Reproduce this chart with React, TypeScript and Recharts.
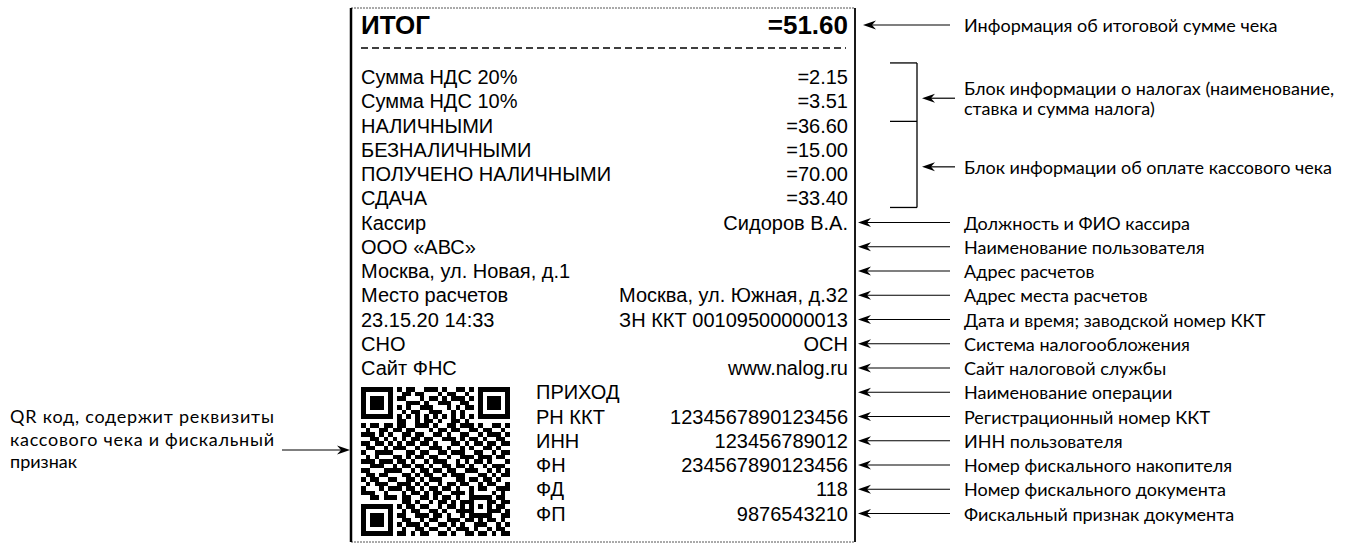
import React from 'react';
import { ComposedChart, XAxis, YAxis, Scatter, ReferenceLine } from 'recharts';

// ---- receipt content ----
const totalLabel = 'ИТОГ';
const totalValue = '=51.60';

const receiptLabels = [
  'Сумма НДС 20%',
  'Сумма НДС 10%',
  'НАЛИЧНЫМИ',
  'БЕЗНАЛИЧНЫМИ',
  'ПОЛУЧЕНО НАЛИЧНЫМИ',
  'СДАЧА',
  'Кассир',
  'ООО «АВС»',
  'Москва, ул. Новая, д.1',
  'Место расчетов',
  '23.15.20 14:33',
  'СНО',
  'Сайт ФНС',
  'ПРИХОД',
  'РН ККТ',
  'ИНН',
  'ФН',
  'ФД',
  'ФП',
];

const receiptValues = [
  '=2.15',
  '=3.51',
  '=36.60',
  '=15.00',
  '=70.00',
  '=33.40',
  'Сидоров В.А.',
  '',
  '',
  'Москва, ул. Южная, д.32',
  'ЗН ККТ 00109500000013',
  'ОСН',
  'www.nalog.ru',
  '',
  '1234567890123456',
  '123456789012',
  '234567890123456',
  '118',
  '9876543210',
];

// first receipt line that sits to the right of the QR code
const qrColumnFrom = 13;

// ---- callouts ----
const calloutTotal = 'Информация об итоговой сумме чека';
const calloutTax = ['Блок информации о налогах (наименование,', 'ставка и сумма налога)'];
const calloutPayment = 'Блок информации об оплате кассового чека';
const taxRows = [0, 1];
const paymentRows = [2, 5];

const calloutFrom = 6;
const calloutRows = [
  'Должность и ФИО кассира',
  'Наименование пользователя',
  'Адрес расчетов',
  'Адрес места расчетов',
  'Дата и время; заводской номер ККТ',
  'Система налогообложения',
  'Сайт налоговой службы',
  'Наименование операции',
  'Регистрационный номер ККТ',
  'ИНН пользователя',
  'Номер фискального накопителя',
  'Номер фискального документа',
  'Фискальный признак документа',
];

const qrNote = ['QR код, содержит реквизиты', 'кассового чека и фискальный', 'признак'];

// QR bitmap, 33 x 33 modules
const qrRows = [
  '1111111' + '0' + '10110011101001101' + '0' + '1111111',
  '1000001' + '0' + '01101100010110010' + '0' + '1000001',
  '1011101' + '0' + '11000101101011101' + '0' + '1011101',
  '1011101' + '0' + '00111010011100110' + '0' + '1011101',
  '1011101' + '0' + '10100111000101011' + '0' + '1011101',
  '1000001' + '0' + '01011001110010100' + '0' + '1000001',
  '1111111' + '0' + '10101010101010101' + '0' + '1111111',
  '00000000' + '11001011010011010' + '00000000',
  '101101' + '1' + '01100111010011011101001101',
  '010011' + '0' + '11011000101101100110110010',
  '111010' + '1' + '00110110011010011001011101',
  '001101' + '0' + '10101101100111010110100110',
  '110110' + '1' + '01011011010001101011011011',
  '011001' + '0' + '11100100111010010100110100',
  '100111' + '1' + '00011011001101110011001011',
  '010100' + '0' + '11010110110010011101110110',
  '111011' + '1' + '01101001011100101011010001',
  '001110' + '0' + '10110110100110110100101110',
  '110001' + '1' + '11001011011011001110010101',
  '011011' + '0' + '00110101100101110001101011',
  '101100' + '1' + '10011010111000110110110100',
  '010111' + '0' + '01110101001011011001011001',
  '100010' + '1' + '11011010110110100101100111',
  '111001' + '0' + '00101101011001110100001010',
  '001101' + '1' + '10110011010110100' + '11111' + '0110',
  '00000000' + '0110100101101011' + '10001' + '1011',
  '1111111' + '0' + '1011011001011010' + '10101' + '0110',
  '1000001' + '0' + '0101100110100111' + '10001' + '1101',
  '1011101' + '0' + '1100111011010010' + '11111' + '0011',
  '1011101' + '0' + '0110010110011101101011010',
  '1011101' + '0' + '1011101001101010011100101',
  '1000001' + '0' + '0100110110010111010010110',
  '1111111' + '0' + '1101011001101001101101011',
];

// ---- layout ----
const W = 1362;
const H = 550;
const ROW0_Y = 77;
const ROW_H = 24.25;
const rowOf = (px: number) => (px - ROW0_Y) / ROW_H;

const BOX_L = 351;
const BOX_R = 855;
const BOX_T = 8;
const BOX_B = 542;
const TEXT_L = 361;
const TEXT_R = 848;
const COL2_X = 536;
const QR_X = 361;
const QR_Y = 387;
const MOD = 4.5;
const ARROW_END = 950;
const NOTE_X = 964;
const BRACKET_IN = 890;
const BRACKET_X = 917;

const TOTAL_ROW = rowOf(25);
const DASH_ROW = rowOf(48);

const RECEIPT_FONT = '"Liberation Sans", Arial, sans-serif';
const NOTE_FONT = 'Lato, "Open Sans", sans-serif';

// tables for the library
const leftTable = receiptLabels.map((label, i) => ({
  x: i >= qrColumnFrom ? COL2_X : TEXT_L,
  row: i,
  text: label,
}));
const rightTable = receiptValues
  .map((value, i) => ({ x: TEXT_R, row: i, text: value }))
  .filter((d) => d.text !== '');
const totalTable = [
  { x: TEXT_L, row: TOTAL_ROW, text: totalLabel, anchor: 'start' },
  { x: TEXT_R, row: TOTAL_ROW, text: totalValue, anchor: 'end' },
];

// bracket: top above the first tax line, split just under the tax block, bottom under the payment block
const taxTop = taxRows[0] - 0.58;
const taxBottom = taxRows[1] + 0.83;
const payBottom = paymentRows[1] + 0.38;

const arrowTable = [
  { x: BOX_R + 8, row: TOTAL_ROW, lines: [calloutTotal] },
  ...calloutRows.map((text, i) => ({ x: BOX_R + 3, row: calloutFrom + i, lines: [text] })),
];
const bracketArrowTable = [
  { x: BRACKET_X + 5, row: (taxTop + taxBottom) / 2 + 0.25, lines: calloutTax },
  { x: BRACKET_X + 5, row: (taxBottom + payBottom) / 2 + 0.1, lines: [calloutPayment] },
];

const qrCells: { col: number; qrow: number }[] = [];
qrRows.forEach((line, r) => {
  line.split('').forEach((c, col) => {
    if (c === '1') qrCells.push({ col, qrow: r });
  });
});

const qrNoteTable = [{ x: 282, row: rowOf(450) }];

// ---- shapes ----
const TextShape = (anchor: 'start' | 'end', bold = false) => (p: any) => (
  <text
    x={p.cx}
    y={p.cy}
    textAnchor={p.payload.anchor || anchor}
    dominantBaseline="central"
    fontFamily={RECEIPT_FONT}
    fontSize={bold ? 26 : 20}
    fontWeight={bold ? 700 : 400}
    fill="#000"
  >
    {p.payload.text}
  </text>
);

const ArrowShape = (p: any) => {
  const tip = p.cx;
  const y = p.cy;
  const lines: string[] = p.payload.lines;
  const gap = 20;
  return (
    <g>
      <line x1={tip + 8} y1={y} x2={ARROW_END + (p.payload.x > BRACKET_X ? 5 : 0)} y2={y} stroke="#000" strokeWidth={1.2} />
      <path d={`M${tip},${y} L${tip + 13},${y - 4.5} L${tip + 9},${y} L${tip + 13},${y + 4.5} Z`} fill="#000" />
      {lines.map((t, i) => (
        <text
          key={i}
          x={NOTE_X}
          y={y + (i - (lines.length - 1) / 2) * gap}
          dominantBaseline="central"
          fontFamily={NOTE_FONT}
          fontSize={18}
          fill="#000"
        >
          {t}
        </text>
      ))}
    </g>
  );
};

const QrNoteShape = (p: any) => {
  const start = p.cx;
  const y = p.cy;
  return (
    <g>
      <line x1={start} y1={y} x2={BOX_L - 6} y2={y} stroke="#000" strokeWidth={1.2} />
      <path d={`M${BOX_L - 1},${y} L${BOX_L - 14},${y - 4.5} L${BOX_L - 10},${y} L${BOX_L - 14},${y + 4.5} Z`} fill="#000" />
      {qrNote.map((t, i) => (
        <text
          key={i}
          x={10}
          y={y - 34 + i * 22.5}
          dominantBaseline="central"
          fontFamily={NOTE_FONT}
          fontSize={18}
          fill="#000"
          textLength={i < 2 ? 264 : undefined}
          lengthAdjust="spacing"
        >
          {t}
        </text>
      ))}
    </g>
  );
};

const QrCell = (p: any) => (
  <rect x={p.cx} y={p.cy} width={MOD + 0.3} height={MOD + 0.3} fill="#000" shapeRendering="crispEdges" />
);

const seg = (x1: number, r1: number, x2: number, r2: number) => [
  { x: x1, y: r1 },
  { x: x2, y: r2 },
];

export default function App() {
  return (
    <div style={{ position: 'absolute', left: 0, top: 0, width: W, height: H, background: '#fff' }}>
      <ComposedChart width={W} height={H} margin={{ top: 0, right: 0, bottom: 0, left: 0 }}>
        <XAxis xAxisId="px" type="number" dataKey="x" domain={[0, W]} allowDataOverflow hide />
        <YAxis yAxisId="row" type="number" dataKey="row" domain={[rowOf(0), rowOf(H)]} allowDataOverflow reversed hide />
        <XAxis xAxisId="qr" type="number" dataKey="col" domain={[-QR_X / MOD, (W - QR_X) / MOD]} allowDataOverflow hide />
        <YAxis yAxisId="qr" type="number" dataKey="qrow" domain={[-QR_Y / MOD, (H - QR_Y) / MOD]} allowDataOverflow reversed hide />

        {/* receipt frame */}
        <ReferenceLine xAxisId="px" yAxisId="row" segment={seg(BOX_L, rowOf(BOX_T), BOX_R, rowOf(BOX_T))} stroke="#555" strokeWidth={1} strokeDasharray="2 1" ifOverflow="visible" />
        <ReferenceLine xAxisId="px" yAxisId="row" segment={seg(BOX_L, rowOf(BOX_B), BOX_R, rowOf(BOX_B))} stroke="#555" strokeWidth={1} strokeDasharray="2 1" ifOverflow="visible" />
        <ReferenceLine xAxisId="px" yAxisId="row" segment={seg(BOX_L, rowOf(BOX_T), BOX_L, rowOf(BOX_B))} stroke="#000" strokeWidth={2.5} ifOverflow="visible" />
        <ReferenceLine xAxisId="px" yAxisId="row" segment={seg(BOX_R, rowOf(BOX_T), BOX_R, rowOf(BOX_B))} stroke="#000" strokeWidth={1.8} ifOverflow="visible" />
        <ReferenceLine xAxisId="px" yAxisId="row" segment={seg(TEXT_L, DASH_ROW, TEXT_R - 2, DASH_ROW)} stroke="#000" strokeWidth={1.3} strokeDasharray="7 4" ifOverflow="visible" />

        {/* bracket for tax + payment blocks */}
        <ReferenceLine xAxisId="px" yAxisId="row" segment={seg(BRACKET_X, taxTop, BRACKET_X, payBottom)} stroke="#000" strokeWidth={1.3} ifOverflow="visible" />
        <ReferenceLine xAxisId="px" yAxisId="row" segment={seg(BRACKET_IN, taxTop, BRACKET_X, taxTop)} stroke="#000" strokeWidth={1.3} ifOverflow="visible" />
        <ReferenceLine xAxisId="px" yAxisId="row" segment={seg(BRACKET_IN, taxBottom, BRACKET_X, taxBottom)} stroke="#000" strokeWidth={1.3} ifOverflow="visible" />
        <ReferenceLine xAxisId="px" yAxisId="row" segment={seg(BRACKET_IN, payBottom, BRACKET_X, payBottom)} stroke="#000" strokeWidth={1.3} ifOverflow="visible" />

        <Scatter xAxisId="px" yAxisId="row" data={totalTable} dataKey="row" shape={TextShape('start', true)} isAnimationActive={false} />
        <Scatter xAxisId="px" yAxisId="row" data={leftTable} dataKey="row" shape={TextShape('start')} isAnimationActive={false} />
        <Scatter xAxisId="px" yAxisId="row" data={rightTable} dataKey="row" shape={TextShape('end')} isAnimationActive={false} />
        <Scatter xAxisId="px" yAxisId="row" data={arrowTable} dataKey="row" shape={ArrowShape} isAnimationActive={false} />
        <Scatter xAxisId="px" yAxisId="row" data={bracketArrowTable} dataKey="row" shape={ArrowShape} isAnimationActive={false} />
        <Scatter xAxisId="px" yAxisId="row" data={qrNoteTable} dataKey="row" shape={QrNoteShape} isAnimationActive={false} />
        <Scatter xAxisId="qr" yAxisId="qr" data={qrCells} dataKey="qrow" shape={QrCell} isAnimationActive={false} />
      </ComposedChart>
    </div>
  );
}
